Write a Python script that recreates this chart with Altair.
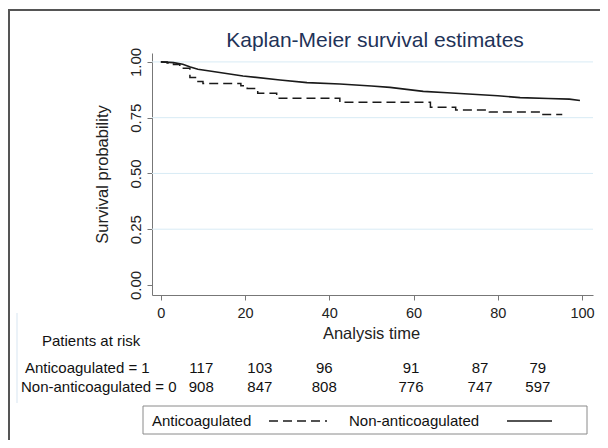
import altair as alt
import pandas as pd

# ---- data ----
non_t = [0, 3, 5.2, 7, 8.8, 12, 19.5, 28.3, 34.7, 42.5, 50, 54.4, 62.3, 68, 74, 80, 85.3, 92, 97, 99.5]
non_s = [1.0, 0.997, 0.99, 0.977, 0.967, 0.958, 0.937, 0.919, 0.907, 0.901, 0.892, 0.886, 0.868, 0.862, 0.855, 0.848, 0.840, 0.836, 0.833, 0.827]

anti_t = [0, 1.5, 3.0, 4.5, 6.9, 8.5, 10.0, 19.0, 20.5, 23.0, 27.5, 42.5, 64.0, 70.0, 78.0, 90.0, 95.3]
anti_s = [1.0, 0.995, 0.988, 0.972, 0.93, 0.912, 0.903, 0.893, 0.881, 0.859, 0.837, 0.819, 0.797, 0.785, 0.776, 0.764, 0.764]

risk_x = [9.6, 23.5, 38.8, 59.4, 75.8, 89.5]
risk_anti = [117, 103, 96, 91, 87, 79]
risk_non = [908, 847, 808, 776, 747, 597]

y_ticks = [0, 0.25, 0.5, 0.75, 1.0]
grid_y = [0.25, 0.5, 0.75, 1.0]
x_ticks = [0, 20, 40, 60, 80, 100]

FONT = "Liberation Sans"
INK = "#1a1a1a"
W, H = 441, 242

non_df = pd.DataFrame({"t": non_t, "s": non_s})
anti_df = pd.DataFrame({"t": anti_t, "s": anti_s})
grid_df = pd.DataFrame({"g": grid_y})
one = pd.DataFrame({"k": [0]})
ra_df = pd.DataFrame({"t": risk_x, "n": [str(v) for v in risk_anti]})
rn_df = pd.DataFrame({"t": risk_x, "n": [str(v) for v in risk_non]})

xs = alt.Scale(domain=[-2.1, 102.6], nice=False, zero=False)
ys = alt.Scale(domain=[-0.045, 1.04], nice=False, zero=False)

x_axis = alt.Axis(values=x_ticks, title="Analysis time", grid=False, tickSize=5,
                  labelPadding=6, labelFontSize=14.5, titleFontSize=16.5,
                  titleX=219, titleY=38, titleBaseline="middle", titleFontWeight="normal",
                  domainColor="#777", tickColor="#777", labelColor="#222", titleColor="#222",
                  labelFont=FONT, titleFont=FONT)
y_axis = alt.Axis(values=y_ticks, format=".2f", title="Survival probability", grid=False,
                  tickSize=5, labelPadding=4, labelAngle=270, labelAlign="center",
                  labelBaseline="bottom", labelFontSize=15, titleFontSize=16.5,
                  titleX=-50, titleY=121, titleAngle=270, titleAlign="center",
                  titleBaseline="middle", titleFontWeight="normal",
                  domainColor="#777", tickColor="#777", labelColor="#222", titleColor="#222",
                  labelFont=FONT, titleFont=FONT)

grid = alt.Chart(grid_df).mark_rule(color="#d8ebf5", strokeWidth=1).encode(
    y=alt.Y("g:Q", scale=ys, axis=y_axis), x=alt.value(0), x2=alt.value(W))

solid = alt.Chart(non_df).mark_line(color=INK, strokeWidth=1.6).encode(
    x=alt.X("t:Q", scale=xs, axis=x_axis), y=alt.Y("s:Q", scale=ys))

dashed = alt.Chart(anti_df).mark_line(color=INK, strokeWidth=1.5, strokeDash=[9, 5],
                                       interpolate="step-after").encode(
    x=alt.X("t:Q", scale=xs), y=alt.Y("s:Q", scale=ys))

title = alt.Chart(one).mark_text(text="Kaplan-Meier survival estimates", font=FONT,
                                 fontSize=21, color="#1f3358", align="center",
                                 baseline="alphabetic").encode(
    x=alt.value(223), y=alt.value(-6))

def label(txt, x, y, size=15, align="left"):
    return alt.Chart(one).mark_text(text=txt, font=FONT, fontSize=size, color="#111",
                                    align=align, baseline="middle").encode(
        x=alt.value(x), y=alt.value(y))

par = label("Patients at risk", -110, 288)
lab_a = label("Anticoagulated = 1", -127, 315)
lab_n = label("Non-anticoagulated = 0", -131, 334)

num_a = alt.Chart(ra_df).mark_text(font=FONT, fontSize=15, color="#111", align="center",
                                   baseline="middle").encode(
    x=alt.X("t:Q", scale=xs), y=alt.value(315), text="n:N")
num_n = alt.Chart(rn_df).mark_text(font=FONT, fontSize=15, color="#111", align="center",
                                   baseline="middle").encode(
    x=alt.X("t:Q", scale=xs), y=alt.value(334), text="n:N")

leg_box = alt.Chart(one).mark_rect(fill="white", stroke="#8a8a8a", strokeWidth=1).encode(
    x=alt.value(-9), x2=alt.value(435), y=alt.value(353), y2=alt.value(381))
leg_t1 = label("Anticoagulated", 0, 368)
leg_t2 = label("Non-anticoagulated", 197, 368)
leg_d = alt.Chart(one).mark_rule(color=INK, strokeWidth=1.5, strokeDash=[9, 5]).encode(
    x=alt.value(117), x2=alt.value(175), y=alt.value(368))
leg_s = alt.Chart(one).mark_rule(color=INK, strokeWidth=1.6).encode(
    x=alt.value(355), x2=alt.value(400), y=alt.value(368))

frame_top = alt.Chart(one).mark_rule(color="#555", strokeWidth=2).encode(
    x=alt.value(-144), x2=alt.value(460), y=alt.value(-43))
frame_left = alt.Chart(one).mark_rule(color="#555", strokeWidth=2).encode(
    x=alt.value(-143), y=alt.value(-44), y2=alt.value(400))
faint = alt.Chart(one).mark_rule(color="#e4eef6", strokeWidth=1.5).encode(
    x=alt.value(-135), y=alt.value(260), y2=alt.value(350))

chart = alt.layer(
    grid, solid, dashed, title, par, lab_a, lab_n, num_a, num_n,
    leg_box, leg_t1, leg_t2, leg_d, leg_s, frame_top, frame_left, faint
).properties(
    width=W, height=H,
    autosize=alt.AutoSizeParams(type="none"),
    padding={"left": 144, "top": 45, "right": 7, "bottom": 145},
    background="white"
).configure_view(stroke=None)

chart.save("out.html", embed_options={"renderer": "svg", "actions": False})
